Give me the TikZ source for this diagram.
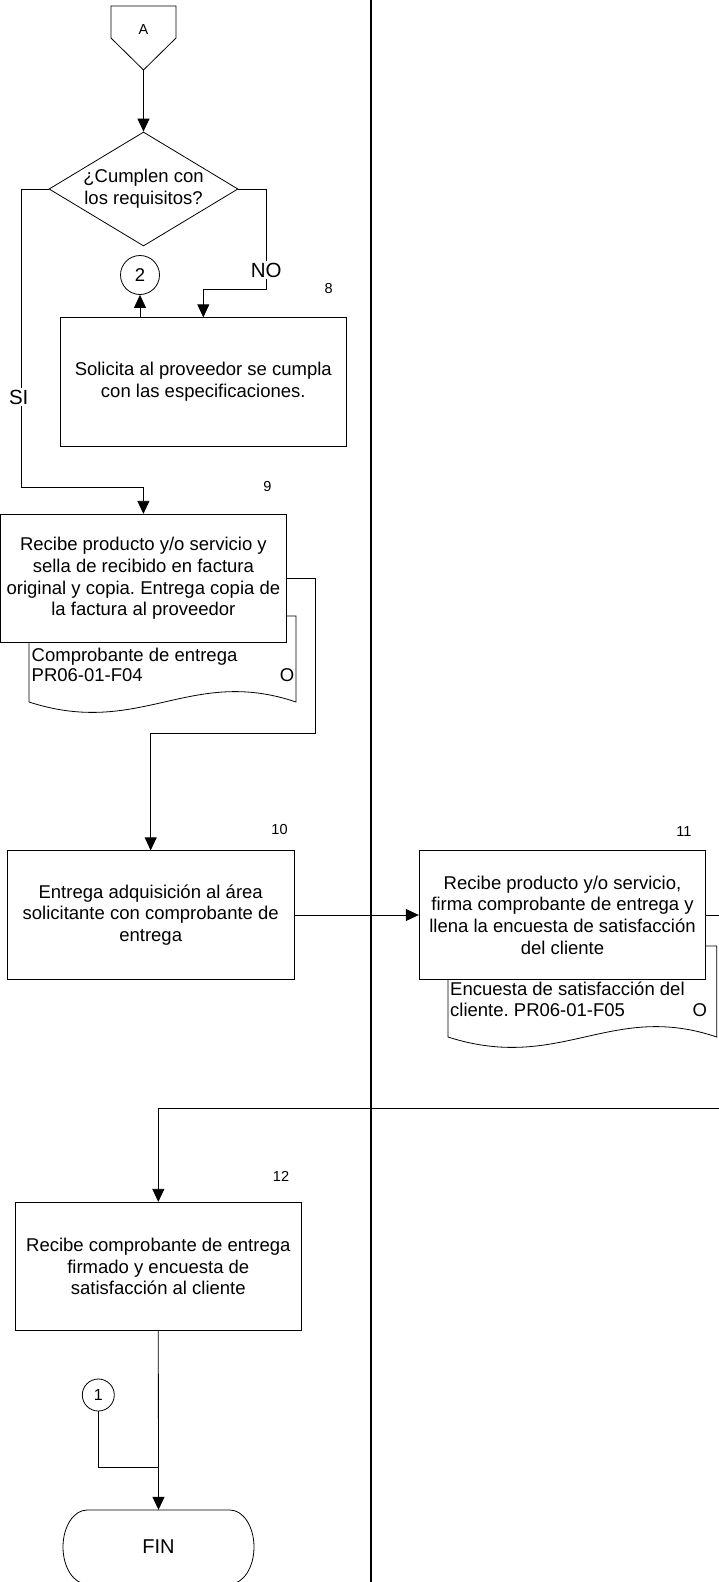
\documentclass[tikz,border=0pt]{standalone}
\usepackage{fontspec}
\setmainfont{Liberation Sans}
\usetikzlibrary{shapes.geometric,arrows.meta}
\frenchspacing
\begin{document}
\begin{tikzpicture}[x=1pt,y=-1pt,
  every node/.style={font=\fontsize{18.5}{21.7}\selectfont},
  proc/.style={draw, line width=0.8pt, fill=white, minimum width=286.6pt, minimum height=128.5pt, align=center, inner sep=0pt},
  conn/.style={draw, line width=0.8pt},
  arr/.style={conn, -{Triangle[length=13pt,width=12pt]}},
  num/.style={font=\fontsize{14.5}{17}\selectfont, inner sep=0pt},
  docshape/.style={draw, line width=0.8pt, fill=white},
  lbl/.style={fill=white, inner sep=1.5pt, font=\fontsize{20.5}{24}\selectfont},
]
\useasboundingbox (0,0) rectangle (719,1582);

% swimlane divider
\draw[line width=2.2pt] (371,0) -- (371,1582);

% off-page connector A
\draw[line width=0.8pt, fill=white] (111,6) -- (176,6) -- (176,38) -- (143.5,70) -- (111,38) -- cycle;
\node[font=\fontsize{14.5}{17}\selectfont] (Alab) at (143.5,30) {A};
\coordinate (Atip) at (143.5,70);

% decision
\node[draw, diamond, line width=0.8pt, inner sep=-12pt, minimum width=189pt, minimum height=114pt, align=center] (dec) at (143.5,189) {¿Cumplen con\\los requisitos?};

% step 8
\node[proc] (b8) at (203.3,382) {Solicita al proveedor se cumpla\\con las especificaciones.};
\node[num] (n8) at (328.7,288.7) {8};
\node[draw, circle, line width=0.8pt, minimum size=39pt, inner sep=0pt] (c2) at (140,275) {2};

% step 9 document
\draw[docshape] (29,616) -- (296,616) -- (296,702) .. controls (190,666) and (140,738) .. (29,702) -- cycle;
\node[anchor=base west, inner sep=0pt] (d9a) at (31.5,661.7) {Comprobante de entrega};
\node[anchor=base west, inner sep=0pt] (d9b) at (31.5,681.7) {PR06-01-F04};
\node[anchor=base east, inner sep=0pt] (d9o) at (294.5,681.7) {O};

% step 9
\node[proc] (b9) at (143.4,578.5) {Recibe producto y/o servicio y\\sella de recibido en factura\\original y copia. Entrega copia de\\la factura al proveedor};
\node[num] (n9) at (267.5,487) {9};

% step 10
\node[proc] (b10) at (150.7,915) {Entrega adquisición al área\\solicitante con comprobante de\\entrega};
\node[num] (n10) at (279.5,829) {10};

% step 11 document
\draw[docshape] (448,946) -- (716.7,946) -- (716.7,1037) .. controls (611,1001) and (560,1073) .. (448,1037) -- cycle;
\node[anchor=base west, inner sep=0pt] (d11a) at (450,995) {Encuesta de satisfacción del};
\node[anchor=base west, inner sep=0pt] (d11b) at (450,1016) {cliente. PR06-01-F05};
\node[anchor=base east, inner sep=0pt] (d11o) at (707.3,1016) {O};

% step 11
\node[proc] (b11) at (562.5,915) {Recibe producto y/o servicio,\\firma comprobante de entrega y\\llena la encuesta de satisfacción\\del cliente};
\node[num] (n11) at (684,832) {11};

% step 12
\node[proc] (b12) at (158.3,1266.5) {Recibe comprobante de entrega\\firmado y encuesta de\\satisfacción al cliente};
\node[num] (n12) at (281,1176.3) {12};

% connector 1
\node[draw, circle, line width=0.8pt, minimum size=32pt, inner sep=0pt, font=\fontsize{16}{19}\selectfont] (c1) at (98.3,1395) {1};

% FIN terminator
\node[minimum width=191pt, minimum height=74pt, inner sep=0pt, font=\fontsize{20}{24}\selectfont] (fin) at (158.5,1547) {FIN};
\draw[line width=0.8pt] (87,1510) -- (230,1510) arc[start angle=-90, end angle=90, x radius=24, y radius=37] -- (87,1584) arc[start angle=90, end angle=270, x radius=24, y radius=37] -- cycle;

% coordinates for bends
\coordinate (p1) at (21,487);
\coordinate (p2) at (266.7,289);
\coordinate (p3) at (315,733);
\coordinate (p4) at (158.3,1467);
\coordinate (offA) at (719,915);
\coordinate (offB) at (719,1108);

% connectors
\draw[arr] (Atip) -- (dec.north);
\draw[arr] (dec.west) -| (p1) -| (b9.north);
\draw[arr] (dec.east) -| (p2) -| (b8.north);
\draw[arr] (b8.north -| c2.south) -- (c2.south);
\draw[arr] (b9.east) -| (p3) -| (b10.north);
\draw[arr] (b10.east) -- (b11.west);
\draw[conn] (b11.east) -- (offA);
\draw[arr] (offB) -| (b12.north);
\draw[arr] (b12.south) -- (fin.north);
\draw[conn] (c1.south) |- (p4);

% labels on connectors
\node[lbl] (si) at (18.7,397) {SI};
\node[lbl] (no) at (266.2,270) {NO};
\end{tikzpicture}
\end{document}
